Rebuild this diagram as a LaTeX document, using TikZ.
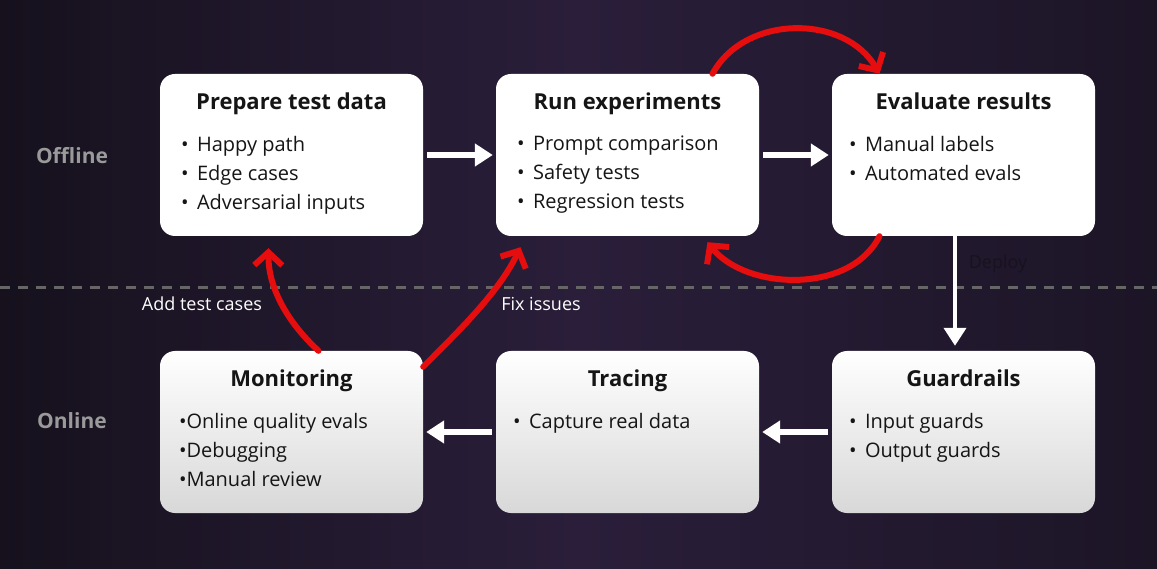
\documentclass[tikz,border=0pt]{standalone}
\usepackage{fontspec}
\setmainfont{Open Sans}
\usetikzlibrary{arrows.meta}
\definecolor{bgleft}{HTML}{16111D}
\definecolor{bgmid}{HTML}{2A1E3A}
\definecolor{bgright}{HTML}{1C1526}
\definecolor{redarrow}{HTML}{E50D0D}
\definecolor{boxtext}{HTML}{151515}
\definecolor{dashgray}{HTML}{666666}
\definecolor{zonegray}{HTML}{9A9A9A}
\definecolor{deploytext}{HTML}{18121F}
\definecolor{boxbottom}{HTML}{D8D8D8}

\begin{document}
\begin{tikzpicture}[x=1pt,y=-1pt]
\tikzstyle{stage}=[draw=none,rectangle,rounded corners=15pt,minimum width=263pt,minimum height=162pt,inner sep=0pt]
\tikzstyle{offstage}=[stage,fill=white]
\tikzstyle{onstage}=[stage,top color=white,bottom color=boxbottom]
\tikzstyle{stagetitle}=[font=\fontsize{22}{26}\selectfont\bfseries,text=boxtext,inner sep=0pt,anchor=base]
\tikzstyle{items}=[font=\fontsize{20}{29}\selectfont,text=boxtext,align=left,inner sep=0pt,anchor=north west]
\tikzstyle{flow}=[draw=white,line width=6pt,shorten <=4pt,shorten >=3pt,-{Triangle[length=18pt,width=22pt]}]
\tikzstyle{feedback}=[draw=redarrow,line width=6pt,line cap=round,-{Straight Barb[length=13pt,width=28pt]}]
\tikzstyle{zone}=[font=\fontsize{21}{25}\selectfont\bfseries,text=zonegray]
\tikzstyle{edgelabel}=[font=\fontsize{18}{22}\selectfont,text=white]

% background and split between offline and online
\shade[left color=bgleft,right color=bgright,middle color=bgmid] (0,0) rectangle (1157,569);
\useasboundingbox (0,0) rectangle (1157,569);
\draw[dashgray,line width=3pt,dash pattern=on 10pt off 8pt] (0,288) -- (1157,288);

\node[zone] (offline) at (72,156) {Offline};
\node[zone] (online) at (72,421) {Online};

% offline stages
\node[offstage] (prep) at (291.5,155) {};
\node[offstage] (run) at (627.5,155) {};
\node[offstage] (eval) at (963.5,155) {};
\node[stagetitle] (preptitle) at ([yshift=-36pt]prep.north) {Prepare test data};
\node[stagetitle] (runtitle) at ([yshift=-36pt]run.north) {Run experiments};
\node[stagetitle] (evaltitle) at ([yshift=-36pt]eval.north) {Evaluate results};
\node[items] (prepitems) at ([xshift=21pt,yshift=-62pt]prep.north west) {•\, Happy path\\•\, Edge cases\\•\, Adversarial inputs};
\node[items] (runitems) at ([xshift=21pt,yshift=-62pt]run.north west) {•\, Prompt comparison\\•\, Safety tests\\•\, Regression tests};
\node[items] (evalitems) at ([xshift=17pt,yshift=-62pt]eval.north west) {•\, Manual labels\\•\, Automated evals};

% online stages
\node[onstage] (mon) at (291.5,432) {};
\node[onstage] (trace) at (627.5,432) {};
\node[onstage] (guard) at (963.5,432) {};
\node[stagetitle] (montitle) at ([yshift=-36pt]mon.north) {Monitoring};
\node[stagetitle] (tracetitle) at ([yshift=-36pt]trace.north) {Tracing};
\node[stagetitle] (guardtitle) at ([yshift=-36pt]guard.north) {Guardrails};
\node[items] (monitems) at ([xshift=19pt,yshift=-62pt]mon.north west) {•Online quality evals\\•Debugging\\•Manual review};
\node[items] (traceitems) at ([xshift=17pt,yshift=-62pt]trace.north west) {•\, Capture real data};
\node[items] (guarditems) at ([xshift=17pt,yshift=-62pt]guard.north west) {•\, Input guards\\•\, Output guards};

% main flow
\draw[flow] (prep) -- (run);
\draw[flow] (run) -- (eval);
\draw[flow] (guard) -- (trace);
\draw[flow] (trace) -- (mon);
\draw[flow,line width=4pt,shorten <=0pt,shorten >=5pt] ([xshift=-8.5pt]eval.south) -- ([xshift=-8.5pt]guard.north);
\node[edgelabel,text=deploytext] (deploylabel) at (998,264) {Deploy};

% feedback loops
\draw[feedback] ([xshift=85pt]run.north) .. controls (745,14) and (845,14) .. ([xshift=-84pt]eval.north);
\draw[feedback] ([xshift=-84pt]eval.south) .. controls (850,295) and (745,290) .. ([xshift=80pt,yshift=-6pt]run.south);
\draw[feedback] ([xshift=27pt]mon.north) .. controls (285,320) and (268,285) .. ([xshift=-23pt,yshift=-12pt]prep.south);
\draw[feedback] ([yshift=-16pt]mon.north east) .. controls (465,325) and (500,290) .. ([xshift=-107pt,yshift=-11pt]run.south);
\node[edgelabel] (addlabel) at (202,304) {Add test cases};
\node[edgelabel] (fixlabel) at (541,304) {Fix issues};
\end{tikzpicture}
\end{document}
